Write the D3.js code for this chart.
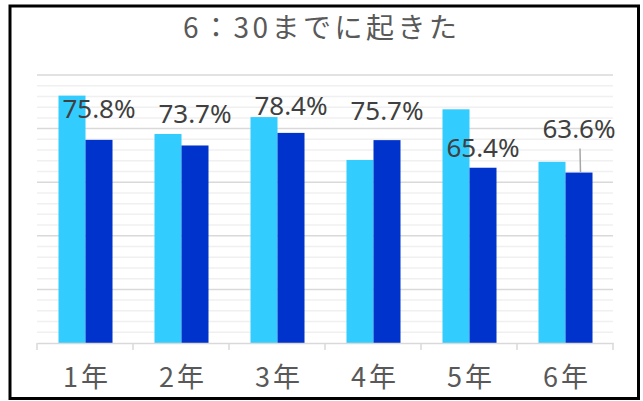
<!DOCTYPE html>
<html>
<head>
<meta charset="utf-8">
<script src="https://cdn.jsdelivr.net/npm/d3@7"></script>
<style>
  body { margin: 0; background: #fff; }
</style>
</head>
<body>
<svg class="chart" width="643" height="401"></svg>
<script>
// data
let categories = ['1年', '2年', '3年', '4年', '5年', '6年']
let seriesLight = [92.3, 78.0, 84.3, 68.3, 87.2, 67.6]
let seriesDark = [75.8, 73.7, 78.4, 75.7, 65.4, 63.6]
let yTicks = [0, 20, 40, 60, 80, 100]
let title = '6：30までに起きた'

// label nudges (px above bar top), labels were moved by hand in the original
let labelLift = [22, 22, 18, 20, 11, 35]

let svg = d3.select('.chart')
let margin = {top: 75, left: 37, right: 30, bottom: 58}
let width = 643 - margin.left - margin.right
let height = 401 - margin.top - margin.bottom

// frame
svg.append('rect')
    .attr('x', 10).attr('y', 6)
    .attr('width', 628.5).attr('height', 392.5)
    .attr('fill', '#fff')
    .attr('stroke', '#000')
    .attr('stroke-width', 3)

svg.append('text')
    .attr('x', 320).attr('y', 38)
    .attr('text-anchor', 'middle')
    .attr('font-family', '"Noto Sans CJK JP", sans-serif')
    .attr('font-size', 28)
    .attr('fill', '#595959')
    .attr('textLength', 274)
    .attr('lengthAdjust', 'spacing')
    .text(title)

let chart = svg.append('g')
    .attr('transform', 'translate(' + margin.left + ',' + margin.top + ')')

let x = d3.scaleBand().domain(categories).range([0, width])
let x1 = d3.scaleBand().domain(['light', 'dark']).range([21.5, 75.5])
let y = d3.scaleLinear().domain([0, 100]).range([height, 0])

// minor grid
chart.append('g')
    .selectAll('line')
    .data(d3.range(0, 101, 4).filter(v => v % 20 !== 0))
  .enter().append('line')
    .attr('x1', 0).attr('x2', width)
    .attr('y1', d => y(d)).attr('y2', d => y(d))
    .attr('stroke', '#f0f0f0')
    .attr('stroke-width', 1.5)

// major grid
chart.append('g')
    .selectAll('line')
    .data(yTicks.filter(v => v > 0))
  .enter().append('line')
    .attr('x1', 0).attr('x2', width)
    .attr('y1', d => y(d)).attr('y2', d => y(d))
    .attr('stroke', '#d9d9d9')
    .attr('stroke-width', 1.5)

let colors = {light: '#33ccff', dark: '#0033cc'}
let rows = categories.map((c, i) => ({cat: c, light: seriesLight[i], dark: seriesDark[i], i: i}))

let groups = chart.selectAll('.grp')
    .data(rows)
  .enter().append('g')
    .attr('class', 'grp')
    .attr('transform', d => 'translate(' + x(d.cat) + ',0)')

groups.selectAll('rect')
    .data(d => ['light', 'dark'].map(k => ({key: k, value: d[k]})))
  .enter().append('rect')
    .attr('x', d => x1(d.key))
    .attr('width', x1.bandwidth())
    .attr('y', d => y(d.value))
    .attr('height', d => height - y(d.value))
    .attr('fill', d => colors[d.key])

// x axis
let xAxis = d3.axisBottom(x).tickSize(0).tickFormat('')
let ax = chart.append('g')
    .attr('transform', 'translate(0,' + height + ')')
    .call(xAxis)
ax.select('.domain').attr('stroke', '#d9d9d9').attr('stroke-width', 1.5)
ax.selectAll('.boundary')
    .data(d3.range(categories.length + 1))
  .enter().append('line')
    .attr('class', 'boundary')
    .attr('x1', i => i * x.step()).attr('x2', i => i * x.step())
    .attr('y1', 0).attr('y2', 7)
    .attr('stroke', '#d9d9d9')
    .attr('stroke-width', 1.5)

chart.append('g').selectAll('text')
    .data(categories)
  .enter().append('text')
    .attr('x', d => x(d) + x.bandwidth() / 2 + 2)
    .attr('y', height + 44)
    .attr('text-anchor', 'middle')
    .attr('font-family', '"Noto Sans CJK JP", sans-serif')
    .attr('font-size', 27)
    .attr('letter-spacing', 3)
    .attr('fill', '#595959')
    .text(d => d)

// data labels for the dark series
let lx = d => x(d.cat) + x1('dark') + x1.bandwidth() / 2
chart.append('g').selectAll('text')
    .data(rows)
  .enter().append('text')
    .attr('x', d => lx(d))
    .attr('y', d => y(d.dark) - labelLift[d.i])
    .attr('text-anchor', 'middle')
    .attr('font-family', '"Noto Sans", sans-serif')
    .attr('font-size', 26)
    .attr('fill', '#404040')
    .text(d => d.dark.toFixed(1) + '%')

// leader line for the last label
let last = rows[rows.length - 1]
chart.append('line')
    .attr('x1', lx(last) + 1).attr('x2', lx(last) + 1.5)
    .attr('y1', y(last.dark) - labelLift[last.i] + 11)
    .attr('y2', y(last.dark))
    .attr('stroke', '#a6a6a6')
    .attr('stroke-width', 1.5)
</script>
</body>
</html>
